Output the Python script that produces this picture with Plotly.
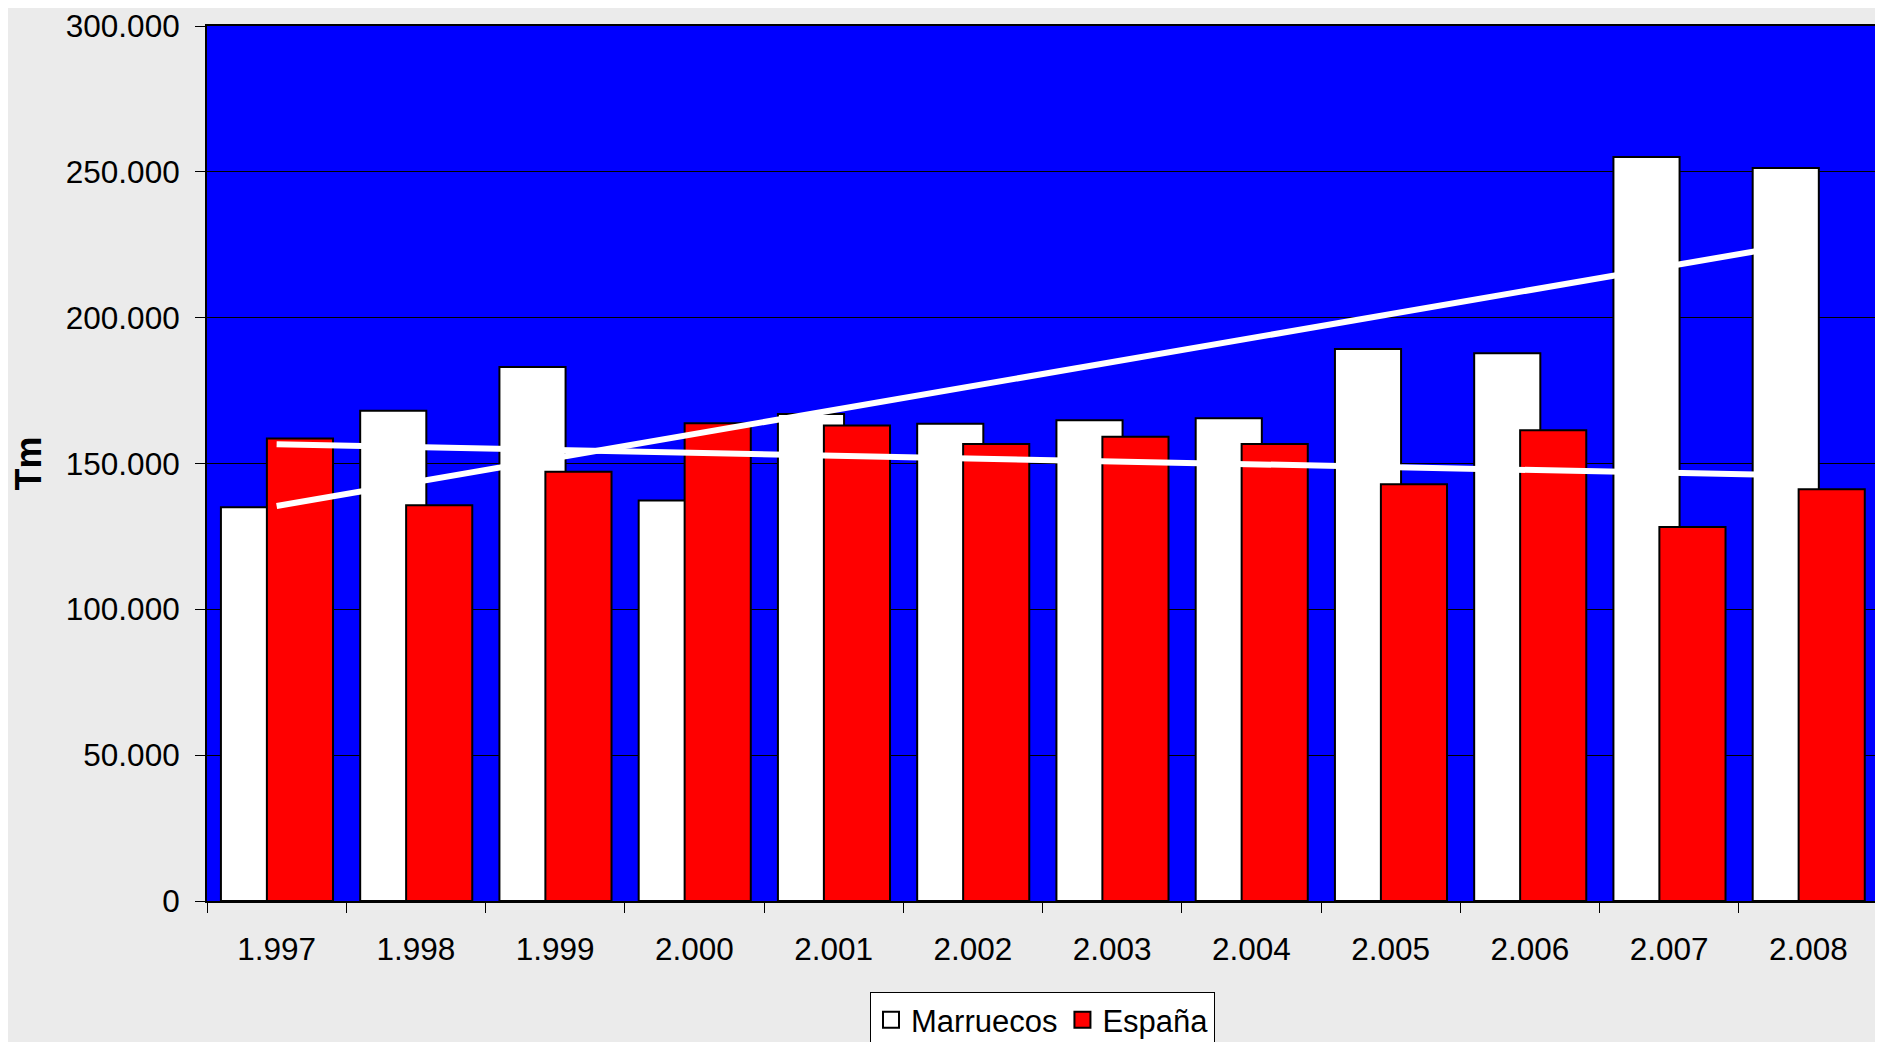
import numpy as np
import plotly.graph_objects as go

years = ["1.997", "1.998", "1.999", "2.000", "2.001", "2.002",
         "2.003", "2.004", "2.005", "2.006", "2.007", "2.008"]
marruecos = [135000, 168100, 183100, 137300, 167000, 163600,
             164800, 165500, 189300, 187800, 255100, 251300]
espana = [158600, 135700, 147200, 163800, 163000, 156700,
          159200, 156700, 142900, 161400, 128200, 141200]
y_ticks = [0, 50000, 100000, 150000, 200000, 250000, 300000]

idx = np.arange(len(years))


def linear_trend(values):
    coef = np.polyfit(idx, np.asarray(values, dtype=float), 1)
    return np.polyval(coef, idx)


fig = go.Figure()
fig.add_trace(go.Bar(
    x=years, y=marruecos, name="Marruecos", showlegend=False,
    width=0.475, offset=-0.40,
    marker=dict(color="#FFFFFF", line=dict(color="#000000", width=2)),
))
fig.add_trace(go.Bar(
    x=years, y=espana, name="España", showlegend=False,
    width=0.475, offset=-0.07,
    marker=dict(color="#FF0000", line=dict(color="#000000", width=2)),
))
fig.add_trace(go.Scatter(
    x=years, y=linear_trend(marruecos), mode="lines",
    line=dict(color="#FFFFFF", width=6), showlegend=False, hoverinfo="skip",
))
fig.add_trace(go.Scatter(
    x=years, y=linear_trend(espana), mode="lines",
    line=dict(color="#FFFFFF", width=6), showlegend=False, hoverinfo="skip",
))
# legend entries (square swatches like the original)
fig.add_trace(go.Scatter(
    x=[None], y=[None], mode="markers", name="Marruecos",
    marker=dict(symbol="square", size=18, color="#FFFFFF",
                line=dict(color="#000000", width=2)),
))
fig.add_trace(go.Scatter(
    x=[None], y=[None], mode="markers", name="España",
    marker=dict(symbol="square", size=18, color="#FF0000",
                line=dict(color="#000000", width=2)),
))

font_family = "Liberation Sans, Arial, sans-serif"

fig.update_layout(
    width=1875, height=1034,
    margin=dict(l=199, r=5, t=18, b=141, autoexpand=False),
    paper_bgcolor="#EBEBEB",
    plot_bgcolor="#0000FF",
    barmode="overlay",
    separators=",.",
    font=dict(family=font_family, size=31, color="#000000"),
    showlegend=True,
    legend=dict(
        orientation="h", x=0.5, xanchor="center", y=-0.104, yanchor="top",
        bgcolor="#FFFFFF", bordercolor="#000000", borderwidth=1,
        font=dict(family=font_family, size=31, color="#000000"),
        traceorder="normal", itemwidth=30,
    ),
    xaxis=dict(
        type="category", tickson="boundaries",
        ticks="outside", ticklen=10, tickwidth=1, tickcolor="#000000",
        showline=True, linecolor="#000000", linewidth=2, mirror=True,
        showgrid=False, tickfont=dict(size=31.5), ticklabelstandoff=19,
        range=[-0.5, len(years) - 0.5],
    ),
    yaxis=dict(
        range=[0, 300000], tickvals=y_ticks, tickformat=",d",
        ticks="outside", ticklen=10, tickwidth=1, tickcolor="#000000",
        showline=True, linecolor="#000000", linewidth=2, mirror=True,
        showgrid=True, gridcolor="#000000", gridwidth=1,
        zeroline=False, tickfont=dict(size=31.5), ticklabelstandoff=9,
        ticklabeloverflow="allow",
        title=dict(text="<b>Tm</b>", font=dict(size=36), standoff=22),
    ),
)

fig.write_html("out.html")
